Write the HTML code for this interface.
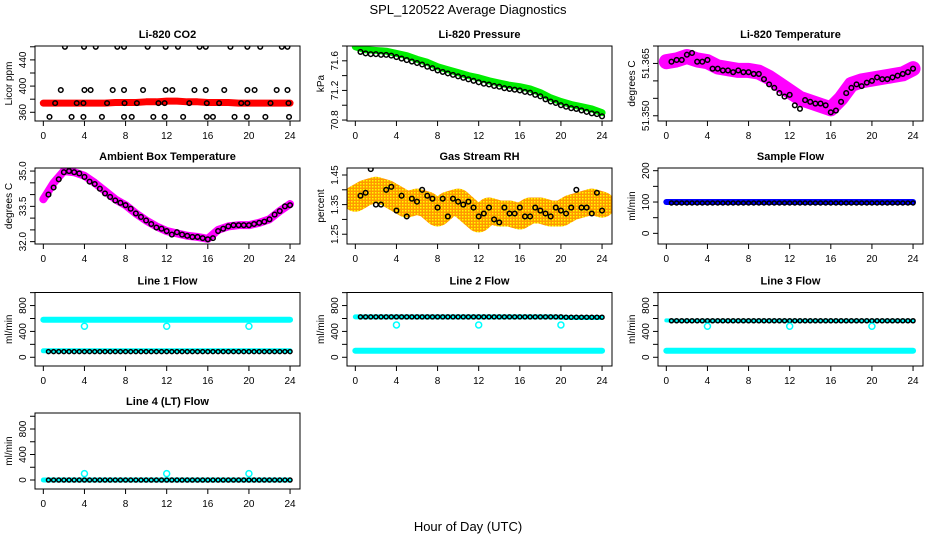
<!DOCTYPE html>
<html><head><meta charset="utf-8"><style>
html,body{margin:0;padding:0;background:#fff;}
svg{display:block;font-family:"Liberation Sans",sans-serif;}
</style></head><body>
<svg id="chart" width="936" height="540" viewBox="0 0 936 540"></svg>
<script>
// ---------- data ----------
const bandHours = [0,1,2,3,4,5,6,7,8,9,10,11,12,13,14,15,16,17,18,19,20,21,22,23,24];
const halfHours = [0.5,1,1.5,2,2.5,3,3.5,4,4.5,5,5.5,6,6.5,7,7.5,8,8.5,9,9.5,10,10.5,11,11.5,12,12.5,13,13.5,14,14.5,15,15.5,16,16.5,17,17.5,18,18.5,19,19.5,20,20.5,21,21.5,22,22.5,23,23.5,24];
const spikeHours = [4,12,20];

const co2Band = [374,374,374,374,374,374,374,375,375,375,376,376,377,377,376,376,375,375,375,374,374,374,374,374,374];
const co2Hours = [2.1,3.96,5.1,7.2,7.85,10.15,11.9,13.1,15.2,15.8,18.2,19.85,21.1,23.2,23.75,
  1.7,4.0,4.6,6.75,7.85,9.7,11.9,12.55,14.7,15.8,17.6,19.85,20.55,22.7,23.75,
  0.6,2.75,3.9,5.7,7.85,8.6,10.7,11.8,13.6,15.9,16.5,18.6,19.8,21.6,23.9,
  1.15,3.25,3.9,6.2,7.9,9.1,11.2,11.8,14.2,15.9,17.1,19.25,19.85,22.1,23.85];
const co2Vals = [460,460,460,460,460,460,460,460,460,460,460,460,460,460,460,
  394,394,394,394,394,394,394,394,394,394,394,394,394,394,394,
  353,353,353,353,353,353,353,353,353,353,353,353,353,353,353,
  374,374,374,374,374,374,374,374,374,374,374,374,374,374,374];

const presBand = [71.79,71.75,71.74,71.73,71.70,71.67,71.62,71.58,71.52,71.48,71.44,71.40,71.37,71.33,71.30,71.27,71.25,71.22,71.17,71.10,71.05,71.01,70.98,70.95,70.90];
const presBlack = [71.72,71.70,71.69,71.69,71.68,71.68,71.67,71.65,71.63,71.61,71.59,71.57,71.55,71.52,71.50,71.47,71.45,71.43,71.41,71.39,71.37,71.35,71.33,71.31,71.29,71.28,71.26,71.25,71.23,71.22,71.21,71.20,71.18,71.17,71.14,71.12,71.08,71.05,71.03,71.00,70.98,70.96,70.95,70.93,70.91,70.89,70.88,70.85];

const tempBand = [51.3655,51.366,51.367,51.366,51.3655,51.364,51.3635,51.363,51.363,51.3625,51.361,51.359,51.357,51.355,51.354,51.353,51.352,51.355,51.359,51.360,51.3605,51.361,51.3615,51.362,51.3635];
const tempBlack = [51.3655,51.366,51.366,51.3675,51.368,51.3655,51.3655,51.366,51.3635,51.3635,51.363,51.363,51.3625,51.363,51.3625,51.3625,51.362,51.362,51.3605,51.359,51.358,51.3565,51.3555,51.356,51.353,51.352,51.3545,51.354,51.3535,51.3535,51.353,51.351,51.3515,51.354,51.3565,51.358,51.359,51.3585,51.3595,51.360,51.361,51.3605,51.3605,51.361,51.3615,51.362,51.3625,51.3635];

const ambBand = [33.8,34.5,35.0,34.95,34.8,34.5,34.15,33.8,33.55,33.2,32.9,32.65,32.45,32.35,32.25,32.2,32.12,32.5,32.65,32.7,32.7,32.8,32.95,33.3,33.6];
const ambBlack = [34.0,34.3,34.65,34.95,35.0,34.95,34.9,34.75,34.55,34.45,34.25,34.05,33.9,33.75,33.65,33.55,33.4,33.2,33.05,32.9,32.75,32.6,32.55,32.45,32.3,32.4,32.3,32.25,32.2,32.2,32.15,32.1,32.15,32.45,32.55,32.65,32.7,32.7,32.7,32.7,32.75,32.8,32.85,32.95,33.15,33.3,33.5,33.55];

const rhBand = [1.37,1.39,1.40,1.39,1.37,1.35,1.36,1.35,1.32,1.35,1.36,1.33,1.30,1.33,1.32,1.32,1.31,1.33,1.33,1.32,1.32,1.34,1.35,1.36,1.35];
const rhBlack = [1.38,1.39,1.47,1.35,1.35,1.40,1.41,1.33,1.38,1.31,1.37,1.36,1.40,1.38,1.37,1.34,1.37,1.31,1.37,1.36,1.35,1.36,1.34,1.31,1.32,1.34,1.30,1.29,1.34,1.32,1.32,1.34,1.31,1.31,1.34,1.33,1.32,1.31,1.34,1.33,1.32,1.34,1.40,1.34,1.34,1.32,1.39,1.33];

const sampleBand = [100,100,100,100,100,100,100,100,100,100,100,100,100,100,100,100,100,100,100,100,100,100,100,100,100];
const sampleBlack = [97,97,97,97,97,97,97,97,97,97,97,97,97,97,97,97,97,97,97,97,97,97,97,97,97,97,97,97,97,97,97,97,97,97,97,97,97,97,97,97,97,97,97,97,97,97,97,97];

const line1Hi = [580,580,580,580,580,580,580,580,580,580,580,580,580,580,580,580,580,580,580,580,580,580,580,580,580];
const line1Lo = [100,100,100,100,100,100,100,100,100,100,100,100,100,100,100,100,100,100,100,100,100,100,100,100,100];
const line1Black = [88,88,88,88,88,88,88,88,88,88,88,88,88,88,88,88,88,88,88,88,88,88,88,88,88,88,88,88,88,88,88,88,88,88,88,88,88,88,88,88,88,88,88,88,88,88,88,88];
const line1Spikes = [480,480,480];

const line2Hi = [625,625,625,625,625,625,625,625,625,625,625,625,625,625,625,625,625,625,625,625,620,615,615,615,615];
const line2Lo = [100,100,100,100,100,100,100,100,100,100,100,100,100,100,100,100,100,100,100,100,100,100,100,100,100];
const line2Black = [625,625,625,625,625,625,625,625,625,625,625,625,625,625,625,625,625,625,625,625,625,625,625,625,625,625,625,625,625,625,625,625,625,625,625,625,625,625,625,625,620,620,620,620,620,620,620,620];
const line2Spikes = [500,500,500];

const line3Hi = [570,565,565,565,565,565,565,565,565,565,565,565,565,565,565,565,565,565,565,565,565,565,565,565,565];
const line3Lo = [100,100,100,100,100,100,100,100,100,100,100,100,100,100,100,100,100,100,100,100,100,100,100,100,100];
const line3Black = [565,565,565,565,565,565,565,565,565,565,565,565,565,565,565,565,565,565,565,565,565,565,565,565,565,565,565,565,565,565,565,565,565,565,565,565,565,565,565,565,565,565,565,565,565,565,565,565];
const line3Spikes = [480,480,480];

const line4Band = [0,0,0,0,0,0,0,0,0,0,0,0,0,0,0,0,0,0,0,0,0,0,0,0,0];
const line4Black = [0,0,0,0,0,0,0,0,0,0,0,0,0,0,0,0,0,0,0,0,0,0,0,0,0,0,0,0,0,0,0,0,0,0,0,0,0,0,0,0,0,0,0,0,0,0,0,0];
const line4Spikes = [100,100,100];

const xTicks = [0,4,8,12,16,20,24];
const flowTicks = [-200,0,200,400,600,800,1000];
const flowLabels = [0,400,800];

// ---------- drawing ----------
const NS = "http://www.w3.org/2000/svg";
const svg = document.getElementById("chart");
function el(tag, parent){ const e=document.createElementNS(NS,tag); parent.appendChild(e); return e; }
function set(e,a){ for(const k in a) e.setAttribute(k,a[k]); return e; }

const defs=el("defs",svg);
const pat=el("pattern",defs);
set(pat,{id:"rhpat",width:3,height:3,patternUnits:"userSpaceOnUse"});
set(el("rect",pat),{x:0,y:0,width:3,height:3,fill:"#ff9900"});
set(el("rect",pat),{x:0,y:0,width:1.5,height:1.5,fill:"#ffff00"});

const tops=[46,168,292.5,413], bottoms=[121,244,366,489], lefts=[35,347,658], W=265;

function panel(cfg){
  const L=lefts[cfg.col], T=tops[cfg.row], B=bottoms[cfg.row], R=L+W;
  const g=el("g",svg);
  
  
  const xmin=-0.81, xmax=xmin+W/10.28;
  const x=v=>L+(v-xmin)/(xmax-xmin)*W;
  const y=v=>B-(v-cfg.ymin)/(cfg.ymax-cfg.ymin)*(B-T);
  const cid="clip"+cfg.name;
  const cp=el("clipPath",g); cp.setAttribute("id",cid);
  set(el("rect",cp),{x:L,y:T,width:W,height:B-T});
  const data=el("g",g); data.setAttribute("clip-path","url(#"+cid+")");
  
  
  (cfg.bands||[]).forEach(b=>{
    const p=el("polyline",data);
    
    
    set(p,{points:bandHours.map((h,i)=>x(h)+","+y(b.vals[i])).join(" "),fill:"none",stroke:b.color,"stroke-width":b.w,"stroke-linejoin":"round","stroke-linecap":"round"});
  });
  (cfg.pts||[]).forEach(s=>{
    s.xs.forEach((h,i)=>{
      const c=el("circle",data);
      
      
      set(c,{cx:x(h),cy:y(s.vals[i]),r:s.r||2.3,fill:"none",stroke:s.color,"stroke-width":s.sw||1.5});
    });
  });
  const f=el("rect",g);
  
  
  set(f,{x:L,y:T,width:W,height:B-T,fill:"none",stroke:"#000","stroke-width":1});
  const xa=el("g",g);
  
  
  xTicks.forEach(t=>{
    set(el("line",xa),{x1:x(t),x2:x(t),y1:B,y2:B+5,stroke:"#000"});
    const tx=el("text",xa);
    
    
    set(tx,{x:x(t),y:B+18,"font-size":10,"text-anchor":"middle"}); tx.textContent=t;
  });
  const ya=el("g",g);
  
  
  const vt=cfg.yticks.filter(t=>t>=cfg.ymin-1e-9&&t<=cfg.ymax+1e-9);
  vt.forEach(t=>set(el("line",ya),{x1:L-5,x2:L,y1:y(t),y2:y(t),stroke:"#000"}));
  cfg.ylabels.forEach((t,i)=>{
    const tx=el("text",ya);
    
    
    const yy=y(t);
    set(tx,{x:0,y:0,"font-size":10,"text-anchor":"middle",transform:`translate(${L-9},${yy}) rotate(-90)`});
    tx.textContent=cfg.ylabelText?cfg.ylabelText[i]:t;
  });
  const yl=el("text",g);
  
  
  set(yl,{x:0,y:0,"font-size":10,"text-anchor":"middle",transform:`translate(${L-23},${(T+B)/2}) rotate(-90)`});
  yl.textContent=cfg.ylab;
  const tt=el("text",g);
  
  
  set(tt,{x:L+W/2,y:T-8,"font-size":11,"font-weight":"bold","text-anchor":"middle"});
  tt.textContent=cfg.title;
}

const K="#000", CY="#00ffff";
panel({name:"co2-panel",row:0,col:0,title:"Li-820 CO2",ylab:"Licor ppm",ymin:346.7,ymax:461.2,
  yticks:[360,380,400,420,440,460],ylabels:[360,400,440],
  bands:[{vals:co2Band,color:"#ff0000",w:7}],
  pts:[{xs:co2Hours,vals:co2Vals,color:K}]});
panel({name:"pressure-panel",row:0,col:1,title:"Li-820 Pressure",ylab:"kPa",ymin:70.787,ymax:71.8,
  yticks:[70.8,71.0,71.2,71.4,71.6,71.8],ylabels:[70.8,71.2,71.6],ylabelText:["70.8","71.2","71.6"],
  bands:[{vals:presBand,color:"#00ee00",w:7}],
  pts:[{xs:halfHours,vals:presBlack,color:K}]});
panel({name:"li820-temperature-panel",row:0,col:2,title:"Li-820 Temperature",ylab:"degrees C",ymin:51.3485,ymax:51.37,
  yticks:[51.350,51.355,51.360,51.365,51.370],ylabels:[51.350,51.365],ylabelText:["51.350","51.365"],
  bands:[{vals:tempBand,color:"#ff00ff",w:15}],
  pts:[{xs:halfHours,vals:tempBlack,color:K}]});
panel({name:"ambient-temperature-panel",row:1,col:0,title:"Ambient Box Temperature",ylab:"degrees C",ymin:31.9,ymax:35.13,
  yticks:[32,32.5,33,33.5,34,34.5,35],ylabels:[32,33.5,35],ylabelText:["32.0","33.5","35.0"],
  bands:[{vals:ambBand,color:"#ff00ff",w:8}],
  pts:[{xs:halfHours,vals:ambBlack,color:K}]});
panel({name:"rh-panel",row:1,col:1,title:"Gas Stream RH",ylab:"percent",ymin:1.217,ymax:1.4736,
  yticks:[1.25,1.30,1.35,1.40,1.45],ylabels:[1.25,1.35,1.45],ylabelText:["1.25","1.35","1.45"],
  bands:[{vals:rhBand,color:"url(#rhpat)",w:26}],
  pts:[{xs:halfHours,vals:rhBlack,color:K}]});
panel({name:"sample-flow-panel",row:1,col:2,title:"Sample Flow",ylab:"ml/min",ymin:-34,ymax:208.6,
  yticks:[0,50,100,150,200],ylabels:[0,100,200],
  bands:[{vals:sampleBand,color:"#0000ff",w:6}],
  pts:[{xs:halfHours,vals:sampleBlack,color:K,r:2}]});
panel({name:"line1-flow-panel",row:2,col:0,title:"Line 1 Flow",ylab:"ml/min",ymin:-135,ymax:1002,
  yticks:flowTicks,ylabels:flowLabels,
  bands:[{vals:line1Hi,color:CY,w:6},{vals:line1Lo,color:CY,w:5}],
  pts:[{xs:halfHours,vals:line1Black,color:K,r:2},{xs:spikeHours,vals:line1Spikes,color:CY,r:3}]});
panel({name:"line2-flow-panel",row:2,col:1,title:"Line 2 Flow",ylab:"ml/min",ymin:-135,ymax:1002,
  yticks:flowTicks,ylabels:flowLabels,
  bands:[{vals:line2Hi,color:CY,w:5},{vals:line2Lo,color:CY,w:6}],
  pts:[{xs:halfHours,vals:line2Black,color:K,r:2},{xs:spikeHours,vals:line2Spikes,color:CY,r:3}]});
panel({name:"line3-flow-panel",row:2,col:2,title:"Line 3 Flow",ylab:"ml/min",ymin:-135,ymax:1002,
  yticks:flowTicks,ylabels:flowLabels,
  bands:[{vals:line3Hi,color:CY,w:4},{vals:line3Lo,color:CY,w:6}],
  pts:[{xs:halfHours,vals:line3Black,color:K,r:2},{xs:spikeHours,vals:line3Spikes,color:CY,r:3}]});
panel({name:"line4-flow-panel",row:3,col:0,title:"Line 4 (LT) Flow",ylab:"ml/min",ymin:-141,ymax:1051,
  yticks:flowTicks,ylabels:flowLabels,
  bands:[{vals:line4Band,color:CY,w:5}],
  pts:[{xs:halfHours,vals:line4Black,color:K,r:2},{xs:spikeHours,vals:line4Spikes,color:CY,r:3}]});

const mt=el("text",svg);


set(mt,{x:468,y:14,"font-size":13,"text-anchor":"middle"});
mt.setAttribute("xml:space","preserve");
mt.textContent="SPL_120522  Average Diagnostics";
const xt=el("text",svg);


set(xt,{x:468,y:531,"font-size":13,"text-anchor":"middle"});
xt.textContent="Hour of Day (UTC)";
</script>
</body></html>
